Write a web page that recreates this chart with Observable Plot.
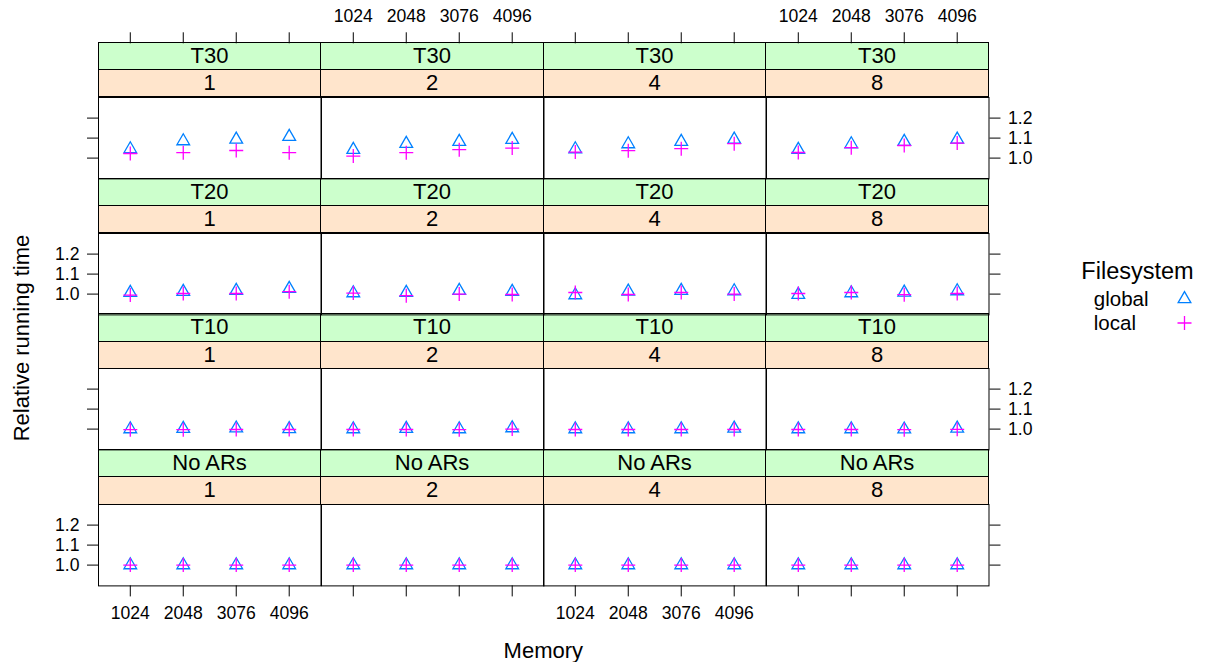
<!DOCTYPE html>
<html><head><meta charset="utf-8">
<script src="https://cdn.jsdelivr.net/npm/d3@7"></script>
<script src="https://cdn.jsdelivr.net/npm/@observablehq/plot@0.6"></script>
<style>
body{margin:0;background:#fff;}
#root{position:relative;width:1206px;height:662px;overflow:hidden;font-family:"Liberation Sans",Arial,Helvetica,sans-serif;color:#000;}
.abs{position:absolute;}
.strip{position:absolute;box-sizing:border-box;border:1px solid #000;text-align:center;font-size:22px;white-space:nowrap;}
</style></head><body><div id="root"></div><script>
// ---- data ----
const arLevels = ["T30", "T20", "T10", "No ARs"];
const procLevels = ["1", "2", "4", "8"];
const memoryLevels = ["1024", "2048", "3076", "4096"];
const fsLevels = ["global", "local"];
const yTicks = [1.0, 1.1, 1.2];

// rows: processes 1,2,4,8 ; columns: memory 1024,2048,3076,4096
const globalT30 = [[1.045, 1.085, 1.093, 1.107], [1.042, 1.072, 1.082, 1.092], [1.045, 1.070, 1.082, 1.093], [1.042, 1.070, 1.082, 1.093]];
const localT30  = [[1.023, 1.027, 1.038, 1.027], [1.010, 1.027, 1.042, 1.050], [1.030, 1.037, 1.047, 1.072], [1.028, 1.052, 1.063, 1.075]];
const globalT20 = [[1.007, 1.012, 1.017, 1.027], [1.005, 1.007, 1.017, 1.012], [0.995, 1.013, 1.017, 1.015], [0.997, 1.005, 1.008, 1.015]];
const localT20  = [[0.995, 1.003, 1.003, 1.012], [1.005, 0.992, 1.000, 0.998], [1.008, 0.998, 1.008, 1.000], [1.003, 1.008, 0.997, 1.003]];
const globalT10 = [[1.000, 1.002, 1.004, 1.001], [1.000, 1.002, 1.000, 1.005], [1.000, 1.000, 1.000, 1.003], [1.000, 1.000, 0.999, 1.003]];
const localT10  = [[0.997, 0.997, 0.998, 0.998], [0.998, 0.998, 0.997, 1.000], [0.998, 0.998, 0.998, 0.998], [0.998, 0.998, 0.997, 0.999]];
const globalNoARs = [[1, 1, 1, 1], [1, 1, 1, 1], [1, 1, 1, 1], [1, 1, 1, 1]];
const localNoARs  = [[1, 1, 1, 1], [1, 1, 1, 1], [1, 1, 1, 1], [1, 1, 1, 1]];

const globalByAR = [globalT30, globalT20, globalT10, globalNoARs];
const localByAR = [localT30, localT20, localT10, localNoARs];

// ---- layout ----
const L = 98.3, T0 = 42.3, W = 222.5, SH = 27.2, H = 81.4, PITCH = 2 * SH + H, M = 50;
const FONT = '"Liberation Sans", Arial, Helvetica, sans-serif';
const BLUE = "#0080ff", MAGENTA = "#ff00ff";
const root = document.getElementById("root");

const plusSymbol = {draw(ctx, size) {
  const h = Math.sqrt(size / Math.PI);
  ctx.moveTo(-h, 0); ctx.lineTo(h, 0);
  ctx.moveTo(0, -h); ctx.lineTo(0, h);
}};
const fmt = d3.format(".1f");
const blank = () => "";
const svgStyle = {overflow: "visible", background: "transparent", color: "#000", fontFamily: FONT, fontSize: "17.6px", maxWidth: "none"};

function place(el, left, top) {
  el.style.position = "absolute";
  el.style.left = left + "px";
  el.style.top = top + "px";
  root.appendChild(el);
}

// strips
arLevels.forEach((ar, r) => {
  procLevels.forEach((p, c) => {
    const x = L + c * W - 0.5;
    const y = T0 + r * PITCH - 0.5;
    [[ar, "#ccffcc", 0], [p, "#ffe5cc", SH]].forEach(([label, bg, off]) => {
      const d = document.createElement("div");
      d.className = "strip";
      d.style.left = x + "px"; d.style.top = (y + off) + "px";
      d.style.width = (W + 1) + "px"; d.style.height = (SH + 1) + "px";
      d.style.lineHeight = (SH - 1) + "px";
      d.style.background = bg;
      d.textContent = label;
      root.appendChild(d);
    });
  });
});

// panels
arLevels.forEach((ar, r) => {
  procLevels.forEach((p, c) => {
    const g = memoryLevels.map((m, i) => ({memory: m, value: globalByAR[r][c][i]}));
    const l = memoryLevels.map((m, i) => ({memory: m, value: localByAR[r][c][i]}));
    const marks = [
      Plot.frame({stroke: "#000", strokeWidth: 1}),
      Plot.dot(g, {x: "memory", y: "value", symbol: "triangle", r: 4.72, stroke: BLUE, strokeWidth: 1.3}),
      Plot.dot(l, {x: "memory", y: "value", symbol: plusSymbol, r: 7, stroke: MAGENTA, strokeWidth: 1.3})
    ];
    if (c === 0) marks.push(Plot.axisY({ticks: yTicks, anchor: "left", tickSize: 11, tickPadding: 8, tickFormat: r % 2 === 1 ? fmt : blank, label: null, fontSize: 17.6}));
    if (c === 3) marks.push(Plot.axisY({ticks: yTicks, anchor: "right", tickSize: 11, tickPadding: 8, tickFormat: r % 2 === 0 ? fmt : blank, label: null, fontSize: 17.6}));
    if (r === 3) marks.push(Plot.axisX({anchor: "bottom", tickSize: 11, tickPadding: 10, tickFormat: c % 2 === 0 ? (d => d) : blank, label: null, fontSize: 17.6}));
    const chart = Plot.plot({
      width: W + 2 * M, height: H + 2 * M, margin: M,
      x: {type: "point", domain: memoryLevels, padding: 0.6, round: false, axis: null},
      y: {type: "linear", domain: [0.896, 1.303], axis: null},
      style: svgStyle,
      marks
    });
    place(chart, L + c * W - M, T0 + r * PITCH + 2 * SH - M);
  });
});

// top axes
procLevels.forEach((p, c) => {
  const chart = Plot.plot({
    width: W + 2 * M, height: 50, marginLeft: M, marginRight: M, marginTop: T0, marginBottom: 50 - T0,
    x: {type: "point", domain: memoryLevels, padding: 0.6, round: false, axis: null},
    style: svgStyle,
    marks: [Plot.axisX({anchor: "top", tickSize: 11, tickPadding: 10, tickFormat: c % 2 === 1 ? (d => d) : blank, label: null, fontSize: 17.6})]
  });
  place(chart, L + c * W - M, 0);
});

// legend
const legend = Plot.plot({
  width: 146, height: 90, marginTop: 48.5, marginBottom: 17.5, marginLeft: 0, marginRight: 0,
  y: {type: "point", domain: fsLevels, padding: 0, round: false, axis: null},
  style: {...svgStyle, fontSize: "20.5px"},
  marks: [
    Plot.text(["Filesystem"], {frameAnchor: "top", text: d => d, lineAnchor: "bottom", dy: -20.2, dx: 4, fontSize: 23.5}),
    Plot.text(fsLevels, {y: d => d, text: d => d, frameAnchor: "left", textAnchor: "start", dx: 33.3, fontSize: 20.5}),
    Plot.dot([fsLevels[0]], {y: d => d, symbol: "triangle", r: 4.72, stroke: BLUE, strokeWidth: 1.3, dx: 51}),
    Plot.dot([fsLevels[1]], {y: d => d, symbol: plusSymbol, r: 7, stroke: MAGENTA, strokeWidth: 1.3, dx: 51})
  ]
});
place(legend, 1060, 250);

// axis titles
const xlab = document.createElement("div");
xlab.textContent = "Memory";
xlab.style.cssText = "font-size:22px;line-height:22px;white-space:nowrap;transform:translateX(-50%);";
place(xlab, L + 2 * W, 640.4);

const ylab = document.createElement("div");
ylab.textContent = "Relative running time";
ylab.style.cssText = "font-size:22px;line-height:22px;white-space:nowrap;transform:translate(-50%,-50%) rotate(-90deg);";
place(ylab, 22, 338);
</script></body></html>
